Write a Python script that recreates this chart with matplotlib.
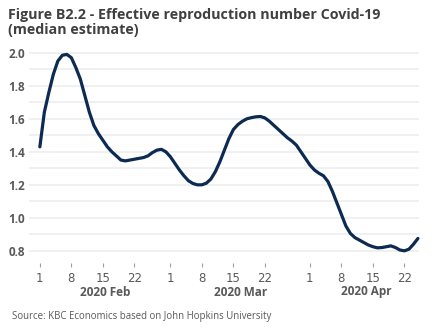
import numpy as np
import pandas as pd
import matplotlib
matplotlib.use("Agg")
import matplotlib.pyplot as plt
import matplotlib.transforms as mtransforms

# Effective reproduction number, daily median estimate, 1 Feb - 25 Apr 2020
start_date = "2020-02-01"
r_values = [
    1.43, 1.64, 1.76, 1.87, 1.95, 1.985, 1.99, 1.97, 1.91, 1.84,
    1.74, 1.64, 1.56, 1.51, 1.47, 1.43, 1.40, 1.375, 1.35, 1.345,
    1.35, 1.355, 1.36, 1.365, 1.375, 1.395, 1.41, 1.415, 1.40, 1.37,
    1.33, 1.29, 1.255, 1.225, 1.208, 1.20, 1.20, 1.21, 1.235, 1.28,
    1.34, 1.41, 1.48, 1.535, 1.565, 1.585, 1.60, 1.607, 1.612, 1.614,
    1.605, 1.585, 1.56, 1.535, 1.51, 1.485, 1.465, 1.44, 1.40, 1.36,
    1.32, 1.29, 1.27, 1.255, 1.22, 1.16, 1.09, 1.02, 0.95, 0.905,
    0.88, 0.865, 0.85, 0.835, 0.825, 0.818, 0.82, 0.825, 0.83, 0.82,
    0.805, 0.80, 0.81, 0.84, 0.875,
]
tick_days = [1, 8, 15, 22]
months = [2, 3, 4]
month_labels = ["2020 Feb", "2020 Mar", "2020 Apr"]
y_ticks = [0.8, 1.0, 1.2, 1.4, 1.6, 1.8, 2.0]

dates = pd.date_range(start_date, periods=len(r_values), freq="D")
days = (dates - dates[0]).days.values

text_col = "#595959"
line_col = "#0c2a52"

fig = plt.figure(figsize=(4.34, 3.34), dpi=100)
ax = fig.add_axes([0.069, 0.249, 0.894, 0.593])

ax.plot(days, r_values, color=line_col, linewidth=2.3, clip_on=False,
        solid_capstyle="round", zorder=3)

ax.set_ylim(0.8, 2.0)
ax.set_xlim(-2.2, 84.0)

# horizontal grid every 0.1
for v in np.arange(0.8, 2.001, 0.1):
    ax.axhline(v, color="#f0f0f0", linewidth=1.4, zorder=1, clip_on=False)

ax.set_yticks(y_ticks)
ax.set_yticklabels([f"{v:.1f}" for v in y_ticks])

# x ticks at day 1, 8, 15, 22 of each month
xt, xl = [], []
for m in months:
    for d in tick_days:
        ts = pd.Timestamp(2020, m, d)
        xt.append((ts - dates[0]).days)
        xl.append(str(d))
ax.set_xticks(xt)
ax.set_xticklabels(xl)

for s in ax.spines.values():
    s.set_visible(False)
ax.tick_params(axis="y", length=0, pad=3.6, labelsize=8.5, labelcolor=text_col)
ax.tick_params(axis="x", length=3, width=0.8, color="#a0a0a0", pad=3.5,
               labelsize=8.5, labelcolor=text_col, direction="out")
for lab in ax.get_xticklabels() + ax.get_yticklabels():
    lab.set_fontweight("bold")
    lab.set_family("Open Sans")

# push x ticks down a bit below the plot
ax.spines["bottom"].set_position(("outward", 9))

# month labels, centred on the part of each month covered by the data
trans = mtransforms.blended_transform_factory(ax.transData, fig.transFigure)
month = dates.month.values
for m, lab in zip(months, month_labels):
    sel = days[month == m]
    c = (sel[0] + sel[-1] + 1) / 2
    ax.text(c, 1 - 292 / 334, lab, transform=trans, ha="center", va="center",
            fontsize=8.5, fontweight="bold", color=text_col, family="Open Sans")

fig.text(0.018, 0.975, "Figure B2.2 - Effective reproduction number Covid-19\n(median estimate)",
         ha="left", va="top", fontsize=10.3, fontweight="bold", color="#404040",
         family="Open Sans", linespacing=1.05)

fig.text(0.028, 1 - 317 / 334, "Source: KBC Economics based on John Hopkins University",
         ha="left", va="center", fontsize=6.9, color=text_col, family="Open Sans")

fig.savefig("out.png", dpi=100)
